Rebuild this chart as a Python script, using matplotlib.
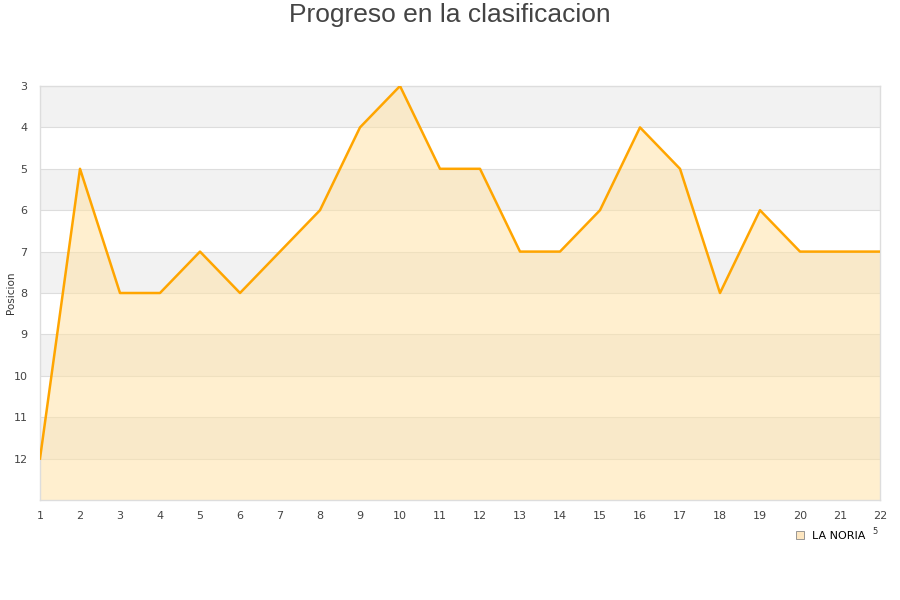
import numpy as np
import matplotlib
matplotlib.use('Agg')
import matplotlib.pyplot as plt
from matplotlib.lines import Line2D

# data
jornadas = list(range(1, 23))
posicion = [12, 5, 8, 8, 7, 8, 7, 6, 4, 3, 5, 5, 7, 7, 6, 4, 5, 8, 6, 7, 7, 7]
yticks = list(range(3, 13))
equipo = 'LA NORIA'

fig = plt.figure(figsize=(9, 6), dpi=100)
ax = fig.add_axes([40/900, 100/600, 840/900, 414/600])

# alternating bands
for k in range(3, 13):
    if (k - 3) % 2 == 0:
        ax.axhspan(k, k + 1, color='#f2f2f2', zorder=0, lw=0)
for k in range(4, 13):
    ax.axhline(k, color='#dddddd', lw=0.8, zorder=1)

ax.fill_between(jornadas, posicion, 13, color='#ffe3a8', alpha=0.55, zorder=2, lw=0)
ax.plot(jornadas, posicion, color='#ffa500', lw=1.8, zorder=3)

ax.set_xlim(1, 22)
ax.set_ylim(13, 3)
ax.set_xticks(jornadas)
ax.set_yticks(yticks)
ax.tick_params(axis='both', length=0, labelsize=8, colors='#444444', pad=8)
ax.tick_params(axis='y', pad=9)
for s in ax.spines.values():
    s.set_color('#dddddd')
    s.set_linewidth(1)

fig.text(11/900, 1 - 293/600, 'Posicion', rotation=90, ha='center', va='center',
         fontsize=7.5, color='#333333')
fig.text(0.5, 1 - 15/600, 'Progreso en la clasificacion', ha='center', va='center',
         fontsize=19, color='#444444', family='Liberation Sans')

h = Line2D([], [], marker='s', ls='none', markersize=6,
           markerfacecolor='#fde6c0', markeredgecolor='#888888', markeredgewidth=0.6)
fig.legend([h], [equipo], loc='center', bbox_to_anchor=(830/900, 1 - 536/600),
           frameon=False, fontsize=8, handletextpad=0.6, handlelength=1)
fig.text(875/900, 1 - 532/600, '5', fontsize=6, color='#333333', ha='center', va='center')

fig.savefig('out.png', dpi=100)
